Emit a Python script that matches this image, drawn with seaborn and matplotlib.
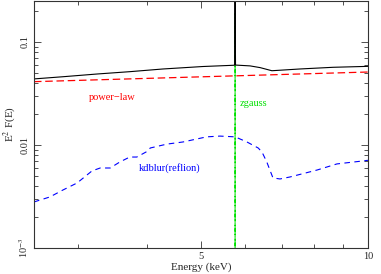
import matplotlib
matplotlib.use("Agg")
import matplotlib.pyplot as plt
import seaborn as sns
import numpy as np
from matplotlib.ticker import LogLocator, FixedLocator, NullFormatter, FixedFormatter

# ---- data ----
total_E = [2.5, 2.82, 3.25, 3.72, 4.27, 5.04, 5.71, 5.75, 5.76, 5.77, 6.13, 6.39, 6.71, 7.54, 8.65, 10.0]
total_F = [0.0438, 0.0460, 0.0489, 0.0515, 0.0547, 0.0578, 0.0594, 0.0596, 0.26, 0.0597, 0.0586, 0.0564, 0.0526, 0.0547, 0.0568, 0.058]

pl_E = [2.5, 5.0, 10.0]
pl_F = [0.0412, 0.0459, 0.0511]

refl_E = [2.5, 2.67, 2.82, 2.99, 3.18, 3.29, 3.43, 3.57, 3.72, 3.83, 4.01, 4.05, 4.34, 4.64,
          5.12, 5.41, 5.76, 6.05, 6.34, 6.44, 6.57, 6.74, 6.94, 7.23, 8.09, 8.79, 9.79, 10.0]
refl_F = [0.0028, 0.00313, 0.00366, 0.00428, 0.0056, 0.00598, 0.00598, 0.00684, 0.00764, 0.00764,
          0.00874, 0.00935, 0.0102, 0.0107, 0.0120, 0.0122, 0.0120, 0.0107, 0.00935, 0.00855,
          0.00684, 0.00479, 0.00468, 0.00489, 0.00571, 0.00655, 0.0070, 0.0071]

gauss_E = [5.7599, 5.76, 5.7601]
gauss_F = [1e-5, 0.19, 1e-5]

labels = ["power\u2212law", "zgauss", "kdblur(reflion)"]
yticks = [1e-3, 1e-2, 1e-1]
yticklabels = ["10$^{-3}$", "0.01", "0.1"]
xticks = [5, 10]
xticklabels = ["5", "10"]

sns.set_style("ticks")
plt.rcParams['font.family'] = ['Liberation Serif', 'DejaVu Serif']
plt.rcParams['mathtext.fontset'] = 'stix'

fig = plt.figure(figsize=(3.81, 2.74), dpi=100)
ax = fig.add_axes([34/381, 1 - 248/274, (368 - 34)/381, (248 - 1)/274])

sns.lineplot(x=gauss_E, y=gauss_F, ax=ax, color="#00e000", lw=0.8, linestyle=(0, (8, 2, 1, 2)), sort=False)
sns.lineplot(x=total_E, y=total_F, ax=ax, color="black", lw=0.8, sort=False)
sns.lineplot(x=pl_E, y=pl_F, ax=ax, color="red", lw=0.9, linestyle=(0, (6, 3)), sort=False)
sns.lineplot(x=refl_E, y=refl_F, ax=ax, color="blue", lw=0.8, linestyle=(0, (5, 4)), sort=False)

ax.set_xscale("log")
ax.set_yscale("log")
ax.set_xlim(2.5, 10)
ax.set_ylim(1e-3, 0.25)

ax.xaxis.set_major_locator(FixedLocator(xticks))
ax.xaxis.set_major_formatter(FixedFormatter(xticklabels))
ax.xaxis.set_minor_locator(FixedLocator([3, 4, 6, 7, 8, 9]))
ax.xaxis.set_minor_formatter(NullFormatter())
ax.yaxis.set_major_locator(FixedLocator(yticks))
ax.yaxis.set_major_formatter(FixedFormatter(yticklabels))
ax.yaxis.set_minor_locator(LogLocator(base=10, subs=np.arange(2, 10)))
ax.yaxis.set_minor_formatter(NullFormatter())

ax.tick_params(which="both", direction="in", top=True, right=True, labelsize=7.5, width=0.6, color="#333333")
ax.tick_params(which="major", length=5, pad=3)
ax.tick_params(which="minor", length=3)
for lab in ax.get_yticklabels():
    lab.set_rotation(90)
    lab.set_va("center")
for sp in ax.spines.values():
    sp.set_linewidth(0.8)
    sp.set_color("#333333")

ax.set_xlabel("Energy (keV)", fontsize=8, labelpad=1)
ax.set_ylabel("E$^2$ F(E)", fontsize=8, va="center")
ax.yaxis.set_label_coords(-0.072, 0.5)

ax.text(89, 274 - 97, labels[0], transform=None, color="red", fontsize=7.5, va="center", ha="left")
ax.text(240, 274 - 104, labels[1], transform=None, color="#00e000", fontsize=7.5, va="center", ha="left")
ax.text(139, 274 - 168, labels[2], transform=None, color="blue", fontsize=7.5, va="center", ha="left")

fig.savefig("out.png", dpi=100)
